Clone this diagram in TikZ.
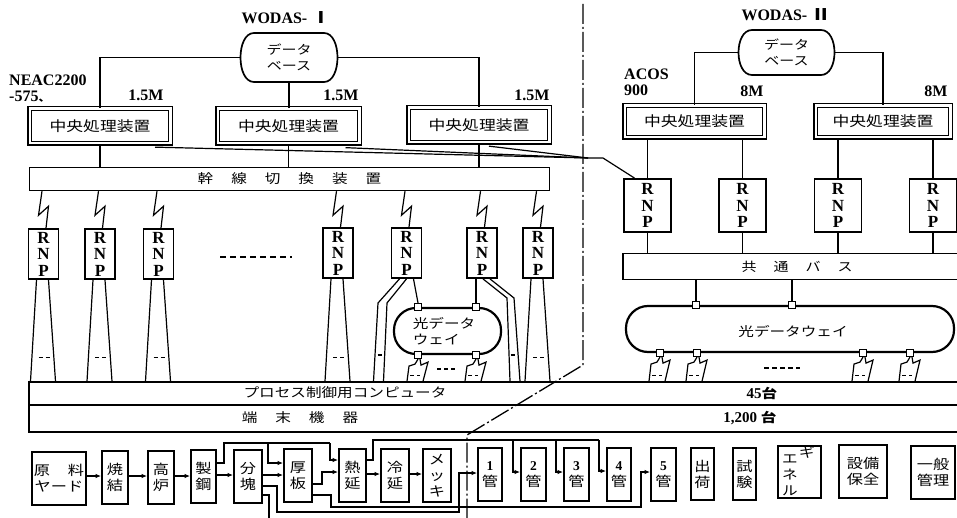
\documentclass[tikz,border=0pt]{standalone}
\usepackage{fontspec}
\setmainfont{Liberation Serif}
\newfontfamily\jp[FakeStretch=1.2]{Noto Sans CJK JP}
\usetikzlibrary{arrows.meta,calc}
\begin{document}
\begin{tikzpicture}[x=1pt,y=-1pt,
  ln/.style={line width=1.2pt},
  arr/.style={line width=1.2pt,-{Latex[length=5.5pt,width=4.5pt]}},
  cpubox/.style={draw,double,double distance=2.2pt,line width=1.5pt,inner sep=0pt,font=\jp\fontsize{14}{16}\selectfont},
  rnpa/.style={draw,line width=1.8pt,inner sep=0pt,minimum width=30pt,minimum height=50pt,align=center,font=\bfseries\fontsize{17}{16.5}\selectfont},
  rnpb/.style={rnpa,minimum width=47pt,minimum height=53pt},
  pbox/.style={draw,line width=1.8pt,inner sep=0pt,align=center,font=\jp\fontsize{13.5}{16}\selectfont},
  barbox/.style={draw,line width=1.5pt,inner sep=0pt},
  sq/.style={draw,fill=white,line width=1.2pt,minimum size=7pt,inner sep=0pt},
  dw/.style={draw,line width=2.2pt,rounded corners=22pt,inner sep=0pt},
  lbl/.style={font=\bfseries\fontsize{16}{18}\selectfont,inner sep=0pt},
  jt/.style={font=\jp\fontsize{13}{16}\selectfont,inner sep=0pt,align=center},
  dsh/.style={line width=1.1pt,dash pattern=on 4pt off 3pt},
  divline/.style={line width=1.3pt,dash pattern=on 20pt off 3pt on 2pt off 3pt}]
\useasboundingbox (0,0) rectangle (957,518);

% ---------- labels ----------
\node[lbl] (wI) at (286,18) {WODAS- {\jp Ⅰ}};
\node[lbl] (wII) at (786,15) {WODAS- {\jp Ⅱ}};
\node[lbl,anchor=west] (neac) at (9,80) {NEAC2200};
\node[lbl,anchor=west] (neacb) at (9,97) {-575{\jp\fontsize{10}{10}\selectfont 、}};
\node[lbl] (m1) at (146,95) {1.5M};
\node[lbl] (m2) at (341,95) {1.5M};
\node[lbl] (m3) at (532,95) {1.5M};
\node[lbl,anchor=west] (acos) at (624,74) {ACOS};
\node[lbl,anchor=west] (acosb) at (624,90) {900};
\node[lbl] (m4) at (752,91) {8M};
\node[lbl] (m5) at (936,91) {8M};

% ---------- data bases ----------
\node[minimum width=97pt,minimum height=49pt,inner sep=0pt,align=center,font=\jp\fontsize{12.5}{16}\selectfont] (db1) at (289,57.5) {データ\\ベース};
\draw[line width=1.7pt] (254,33) -- (324,33) .. controls (342,33) and (342,82) .. (324,82) -- (254,82) .. controls (236,82) and (236,33) .. (254,33) -- cycle;
\node[minimum width=97pt,minimum height=45pt,inner sep=0pt,align=center,font=\jp\fontsize{12.5}{16}\selectfont] (db2) at (786.5,52.5) {データ\\ベース};
\draw[line width=1.7pt] (752,30) -- (821,30) .. controls (839,30) and (839,75) .. (821,75) -- (752,75) .. controls (734,75) and (734,30) .. (752,30) -- cycle;

% ---------- CPUs ----------
\node[cpubox,minimum width=140.8pt,minimum height=34.8pt] (cpu1) at (100,126) {中央処理装置};
\node[cpubox,minimum width=141.8pt,minimum height=34.8pt] (cpu2) at (288.5,126) {中央処理装置};
\node[cpubox,minimum width=140.8pt,minimum height=34.8pt] (cpu3) at (479,125) {中央処理装置};
\node[cpubox,minimum width=139.8pt,minimum height=31.8pt] (cpu4) at (694.5,121.5) {中央処理装置};
\node[cpubox,minimum width=134.8pt,minimum height=31.8pt] (cpu5) at (883,121.5) {中央処理装置};

\draw[ln] (db1.west) -| (cpu1.north);
\draw[ln] (db1.south) -- (db1.south |- cpu2.north);
\draw[ln] (db1.east) -| (cpu3.north);
\draw[ln] (db2.west) -| (cpu4.north);
\draw[ln] (db2.east) -| (cpu5.north);

% ---------- trunk switch ----------
\node[barbox,minimum width=520pt,minimum height=23pt,font=\jp\fontsize{13}{16}\selectfont] (trunk) at (289.5,179)
  {幹\hspace{18pt}線\hspace{18pt}切\hspace{18pt}換\hspace{18pt}装\hspace{18pt}置};
\draw[ln] (cpu1.south) -- (cpu1.south |- trunk.north);
\draw[ln] (cpu2.south) -- (cpu2.south |- trunk.north);
\draw[ln] (cpu3.south) -- (cpu3.south |- trunk.north);

% ---------- RNPs WODAS-I ----------
\node[rnpa] (r1) at (43.5,254) {R\\N\\P};
\node[rnpa] (r2) at (100,254) {R\\N\\P};
\node[rnpa] (r3) at (158.5,254) {R\\N\\P};
\node[rnpa] (r4) at (338,253) {R\\N\\P};
\node[rnpa] (r5) at (406.5,253) {R\\N\\P};
\node[rnpa] (r6) at (482,253) {R\\N\\P};
\node[rnpa] (r7) at (538,253) {R\\N\\P};
\foreach \n in {r1,r2,r3,r4,r5,r6,r7}{
  \draw[ln] ($(\n.north |- trunk.south)+(-1.5,0)$) -- ++(-3.5,24) -- ++(10,-9) -- ($(\n.north)+(2.5,0)$);
}
\draw[ln,dash pattern=on 6pt off 4pt] (220,257) -- (292,257);

% ---------- RNPs WODAS-II and bus ----------
\node[rnpb] (ra) at (647.5,205.5) {R\\N\\P};
\node[rnpb] (rb) at (742.5,205.5) {R\\N\\P};
\node[rnpb] (rc) at (838,205.5) {R\\N\\P};
\node[rnpb] (rd) at (933,205.5) {R\\N\\P};
\draw[ln] (ra.north |- cpu4.south) -- (ra.north);
\draw[ln] (rb.north |- cpu4.south) -- (rb.north);
\draw[ln] (rc.north |- cpu5.south) -- (rc.north);
\draw[ln] (rd.north |- cpu5.south) -- (rd.north);
\node[barbox,minimum width=339pt,minimum height=26pt,text width=330pt,align=left,font=\jp\fontsize{12.5}{16}\selectfont] (bus) at (792.5,266.5)
  {\hspace{114pt}共\hspace{17pt}通\hspace{17pt}バ\hspace{17pt}ス};
\foreach \n in {ra,rb,rc,rd}{ \draw[ln] (\n.south) -- (\n.south |- bus.north); }

% ---------- links from WODAS-I CPUs to WODAS-II ----------
\coordinate (cva) at (588,158);
\coordinate (cvb) at (603,158);
\draw[ln] ($(cpu1.south)+(55,3)$) -- (cva);
\draw[ln] ($(cpu2.south)+(57,3.5)$) -- (cva);
\draw[ln] ($(cpu3.south)+(10,3)$) -- (cva);
\draw[ln] (cva) -- (cvb) -- ($(ra.north)+(-13,0)$);

% ---------- process computers / terminals ----------
\node[barbox,minimum width=933pt,minimum height=23pt] (proc) at (495.5,393.5) {};
\node[barbox,minimum width=933pt,minimum height=27pt] (term) at (495.5,418.5) {};
\node[font=\jp\fontsize{13}{16}\selectfont,inner sep=0pt] (proct) at (345,393) {プロセス制御用コンピュータ};
\node[inner sep=0pt,font=\bfseries\fontsize{15}{16}\selectfont] (proca) at (762,393) {45{\jp\fontsize{13}{16}\selectfont 台}};
\node[font=\jp\fontsize{13}{16}\selectfont,inner sep=0pt] (termt) at (300,418) {端\hspace{18pt}末\hspace{18pt}機\hspace{18pt}器};
\node[inner sep=0pt,font=\bfseries\fontsize{15}{16}\selectfont] (terma) at (750,418) {1,200 {\jp\fontsize{13}{16}\selectfont 台}};

% flares of the WODAS-I RNPs
\foreach \n in {r1,r2,r3,r4,r7}{
  \draw[ln] ($(\n.south)+(-7,0)$) -- ($(\n.south |- proc.north)+(-13,0)$);
  \draw[ln] ($(\n.south)+(5,0)$) -- ($(\n.south |- proc.north)+(12,0)$);
  \draw[dsh] ($(\n.south |- proc.north)+(-5,-24)$) -- ++(11,0);
}

% ---------- optical data way I ----------
\node[dw,minimum width=107pt,minimum height=46pt] (dw1) at (447.5,331) {};
\node[jt,align=left] (dw1t) at (444,331) {光データ\\ウェイ};
\node[sq] (s1) at (418,307) {};
\node[sq] (s2) at (476,307) {};
\node[sq] (s3) at (418,355) {};
\node[sq] (s4) at (476,355) {};
% RNP5
\draw[ln] ($(r5.south)+(-7,0)$) -- (378,303) -- ($(r5.south |- proc.north)+(-33,0)$);
\draw[ln] (r5.south) -- (387,303) -- ($(r5.south |- proc.north)+(-23,0)$);
\draw[ln] ($(r5.south)+(7,0)$) -- (s1.north);
\draw[ln] (377.5,355) -- (382,355);
% RNP6
\draw[ln] ($(r6.south)+(-6,0)$) -- (s2.north);
\draw[ln] ($(r6.south)+(1,0)$) -- (507,298) -- ($(r6.south |- proc.north)+(28,0)$);
\draw[ln] ($(r6.south)+(8,0)$) -- (514,298) -- ($(r6.south |- proc.north)+(38,0)$);
\draw[ln] (510.5,355) -- (515,355);
\draw[dsh] (437,369) -- (457,369);

% ---------- optical data way II ----------
\node[dw,minimum width=328pt,minimum height=46pt] (dw2) at (790,329) {};
\node[jt] (dw2t) at (793,331) {光データウェイ};
\node[sq] (t1) at (696,305) {};
\node[sq] (t2) at (792,305) {};
\node[sq] (t3) at (660,353) {};
\node[sq] (t4) at (697,353) {};
\node[sq] (t5) at (863,353) {};
\node[sq] (t6) at (910,353) {};
\draw[ln] (t1.north |- bus.south) -- (t1.north);
\draw[ln] (t2.north |- bus.south) -- (t2.north);
\draw[ln,dash pattern=on 5pt off 3pt] (764,368) -- (800,368);

% lightning links from the data ways to the process computers
\foreach \s in {s3,s4,t3,t4,t5,t6}{
  \draw[ln] (\s.south) -- ++(-3,5) -- ++(-6,2) -- ($(\s.south |- proc.north)+(-11,0)$);
  \draw[ln] ($(\s.south)+(2,0)$) -- ++(1,6) -- ++(7,-3) -- ($(\s.south |- proc.north)+(5,0)$);
  \draw[dsh] ($(\s.south |- proc.north)+(-8,-6)$) -- ++(10,0);
}

% ---------- bottom process row ----------
\node[pbox,minimum width=54pt,minimum height=53pt] (b1) at (59,478.5) {原\hspace{18pt}料\\ヤード};
\node[pbox,minimum width=26pt,minimum height=53pt] (b2) at (115,477.5) {焼\\結};
\node[pbox,minimum width=26pt,minimum height=53pt] (b3) at (161,477.5) {高\\炉};
\node[pbox,minimum width=25pt,minimum height=53pt] (b4) at (203.5,476.5) {製\\鋼};
\node[pbox,minimum width=28pt,minimum height=53pt] (b5) at (248,476.5) {分\\塊};
\node[pbox,minimum width=28pt,minimum height=53pt] (b6) at (298,475.5) {厚\\板};
\node[pbox,minimum width=27pt,minimum height=53pt] (b7) at (352.5,475.5) {熱\\延};
\node[pbox,minimum width=28pt,minimum height=53pt] (b8) at (395,475.5) {冷\\延};
\node[pbox,minimum width=28pt,minimum height=53pt] (b9) at (437,475.5) {メ\\ッ\\キ};
\node[pbox,minimum width=24pt,minimum height=53pt] (b10) at (490,474.5) {{\rmfamily\bfseries 1}\\管};
\node[pbox,minimum width=25pt,minimum height=53pt] (b11) at (533.5,474.5) {{\rmfamily\bfseries 2}\\管};
\node[pbox,minimum width=25pt,minimum height=53pt] (b12) at (576.5,474.5) {{\rmfamily\bfseries 3}\\管};
\node[pbox,minimum width=24pt,minimum height=53pt] (b13) at (619,474.5) {{\rmfamily\bfseries 4}\\管};
\node[pbox,minimum width=25pt,minimum height=53pt] (b14) at (663.5,474.5) {{\rmfamily\bfseries 5}\\管};
\node[pbox,minimum width=23pt,minimum height=52pt] (b15) at (702.5,474) {出\\荷};
\node[pbox,minimum width=23pt,minimum height=52pt] (b16) at (744.5,474) {試\\験};
\node[pbox,minimum width=43pt,minimum height=52pt] (b17) at (799.5,472) {};
\node[jt] (b17a) at (790,475) {エ\\ネ\\ル};
\node[jt] (b17b) at (807,452) {ギ};
\node[pbox,minimum width=48pt,minimum height=53pt] (b18) at (863,471.5) {設備\\保全};
\node[pbox,minimum width=44pt,minimum height=53pt] (b19) at (933,472.5) {一般\\管理};

% main chain arrows
\draw[arr] (b1.east |- 0,476) -- (b2.west |- 0,476);
\draw[arr] (b2.east |- 0,476) -- (b3.west |- 0,476);
\draw[arr] (b3.east |- 0,476) -- (b4.west |- 0,476);
\draw[arr] (b4.east |- 0,475) -- (b5.west |- 0,475);
\draw[arr] (b5.east |- 0,475) -- (b6.west |- 0,475);
\draw[arr] (b7.east |- 0,474) -- (b8.west |- 0,474);
\draw[arr] (b8.east |- 0,474) -- (b9.west |- 0,474);
% steel making to plate and hot strip
\draw[ln] (b4.east |- 0,463) -- (224,463) -- (224,443) -- (330,443);
\draw[arr] (330,443) -- (330,460) -- (b7.west |- 0,460);
\draw[arr] (268,443) -- (268,463) -- (b6.west |- 0,463);
% blooming to pipe 1
\draw[arr] (b5.east |- 0,486) -- (277,486) -- (277,512) -- (459,512) -- (459,473) -- (b10.west |- 0,473);
\draw[ln] (b5.east |- 0,495) -- (269,495) -- (269,520);
% plate to hot strip and pipe 5
\draw[arr] (b6.east |- 0,484) -- (322,484) -- (322,472) -- (b7.west |- 0,472);
\draw[arr] (b6.east |- 0,495) -- (331,495) -- (331,507) -- (641,507) -- (641,472) -- (b14.west |- 0,472);
% hot strip to pipes 2-4
\draw[ln] (b7.east |- 0,460) -- (373,460) -- (373,440) -- (599,440);
\draw[arr] (513,440) -- (513,472) -- (b11.west |- 0,472);
\draw[arr] (556,440) -- (556,472) -- (b12.west |- 0,472);
\draw[arr] (599,440) -- (599,471) -- (b13.west |- 0,471);

% ---------- WODAS-I / WODAS-II boundary ----------
\draw[divline] (583,4) -- (583,365) -- (467,435) -- (467,520);
\end{tikzpicture}
\end{document}
